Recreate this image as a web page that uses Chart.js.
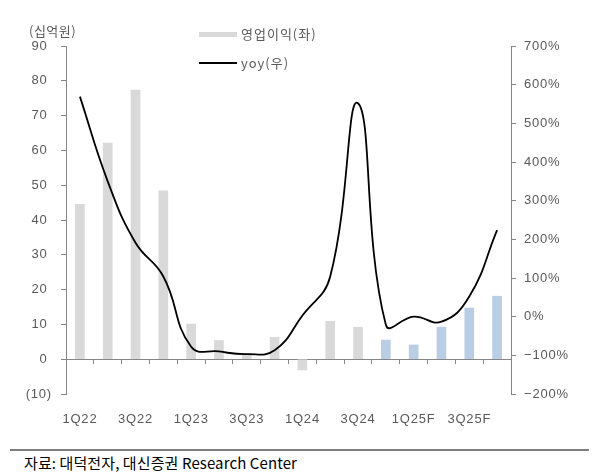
<!DOCTYPE html>
<html>
<head>
<meta charset="utf-8">
<script src="https://cdn.jsdelivr.net/npm/chart.js@4/dist/chart.umd.min.js"></script>
<style>
  html, body { margin: 0; padding: 0; background: #fff; }
  body { width: 592px; height: 476px; position: relative; overflow: hidden; font-family: "Liberation Sans", Arial, sans-serif; }
  #wrap { position: absolute; left: 0; top: 0; width: 592px; height: 430px; }
  .txt { position: absolute; color: #595959; font-size: 13px; white-space: nowrap; line-height: 1; font-family: "Noto Sans CJK KR", "Liberation Sans", sans-serif; letter-spacing: 1px; }
  #unit { left: 29px; top: 24px; letter-spacing: 0.5px; }
  #lg1box { position: absolute; left: 199px; top: 32px; width: 38px; height: 5px; background: #d9d9d9; }
  #lg1 { left: 241px; top: 27px; }
  #lg2line { position: absolute; left: 199px; top: 62px; width: 38px; height: 2px; background: #000; }
  #lg2 { left: 241px; top: 56px; }
  #rule { position: absolute; left: 10px; top: 449px; width: 579px; height: 2px; background: #7f7f7f; }
  #src { position: absolute; left: 24px; top: 455px; font-size: 15px; color: #000; letter-spacing: 0.1px; white-space: nowrap; line-height: 1; font-family: "Noto Sans CJK KR", sans-serif; }
</style>
</head>
<body>
<div id="wrap"><canvas id="c"></canvas></div>
<div class="txt" id="unit">(십억원)</div>
<div id="lg1box"></div><div class="txt" id="lg1">영업이익(좌)</div>
<div id="lg2line"></div><div class="txt" id="lg2">yoy(우)</div>
<div id="rule"></div>
<div id="src">자료: 대덕전자, 대신증권 Research Center</div>
<script>
const categories = ['1Q22','2Q22','3Q22','4Q22','1Q23','2Q23','3Q23','4Q23','1Q24','2Q24','3Q24','4Q24','1Q25F','2Q25F','3Q25F','4Q25F'];
const operatingProfit = [44.5, 62.1, 77.3, 48.4, 10.1, 5.4, 1.6, 6.3, -3.1, 10.9, 9.2, 5.5, 4.1, 9.2, 14.7, 18.1];
const yoyPct = [569, 350, 191, 104, -78, -90, -97, -87, 3, 104, 552, -21, 0, -13, 52, 224];
const isForecast = [false,false,false,false,false,false,false,false,false,false,false,true,true,true,true,true];
const leftTicks = [-10, 0, 10, 20, 30, 40, 50, 60, 70, 80, 90];
const rightTicks = [-200, -100, 0, 100, 200, 300, 400, 500, 600, 700];

const axisColor = '#868686';
const labelColor = '#595959';
const tickFont = { family: "'Liberation Sans', Arial, sans-serif", size: 13 };

const spacing = {
  id: 'spacing',
  beforeInit(chart) { chart.ctx.letterSpacing = '0.8px'; },
  beforeDraw(chart) { chart.ctx.letterSpacing = '0.8px'; }
};

new Chart(document.getElementById('c'), {
  plugins: [spacing],
  data: {
    labels: categories,
    datasets: [
      {
        type: 'line',
        label: 'yoy(우)',
        data: yoyPct,
        yAxisID: 'y1',
        xAxisID: 'x',
        borderColor: '#000',
        borderWidth: 1.8,
        pointRadius: 0,
        tension: 0.45,
        fill: false,
        order: 0
      },
      {
        type: 'bar',
        label: '영업이익(좌)',
        data: operatingProfit,
        yAxisID: 'y',
        xAxisID: 'x',
        backgroundColor: isForecast.map(f => f ? '#b9cde5' : '#d9d9d9'),
        barThickness: 9,
        order: 1
      }
    ]
  },
  options: {
    responsive: true,
    maintainAspectRatio: false,
    animation: false,
    devicePixelRatio: 1,
    layout: { padding: { top: 46, left: 0, right: 0, bottom: 0 } },
    plugins: { legend: { display: false }, tooltip: { enabled: false } },
    scales: {
      x: {
        type: 'category',
        position: 'bottom',
        offset: true,
        grid: { display: false },
        border: { display: false },
        ticks: {
          autoSkip: false, maxRotation: 0, minRotation: 0, padding: 10,
          color: labelColor, font: tickFont,
          callback: function(v, i) { return i % 2 === 0 ? categories[i] : ''; }
        },
        afterFit: function(s) { s.height = 36; }
      },
      x2: {
        type: 'category',
        labels: categories,
        position: { y: 0 },
        offset: true,
        grid: { offset: true, drawOnChartArea: false, drawTicks: true, tickLength: 4, color: axisColor, lineWidth: 1 },
        border: { display: true, color: axisColor, width: 1 },
        ticks: { display: false }
      },
      y: {
        position: 'left',
        min: -10, max: 90,
        afterBuildTicks: function(s) { s.ticks = leftTicks.map(v => ({ value: v })); },
        grid: { drawOnChartArea: false, drawTicks: true, tickLength: 5, color: axisColor },
        border: { display: true, color: axisColor, width: 1 },
        ticks: {
          padding: 9, color: labelColor, font: tickFont,
          callback: function(v) { return v < 0 ? '(' + (-v) + ')' : v + ' '; }
        },
        afterFit: function(s) { s.width = 66; }
      },
      y1: {
        position: 'right',
        min: -200, max: 700,
        afterBuildTicks: function(s) { s.ticks = rightTicks.map(v => ({ value: v })); },
        grid: { drawOnChartArea: false, drawTicks: true, tickLength: 5, color: axisColor },
        border: { display: true, color: axisColor, width: 1 },
        ticks: {
          padding: 8, color: labelColor, font: tickFont,
          callback: function(v) { return (v < 0 ? '\u2212' + (-v) : v) + '%'; }
        },
        afterFit: function(s) { s.width = 81; }
      }
    }
  }
});
</script>
</body>
</html>
